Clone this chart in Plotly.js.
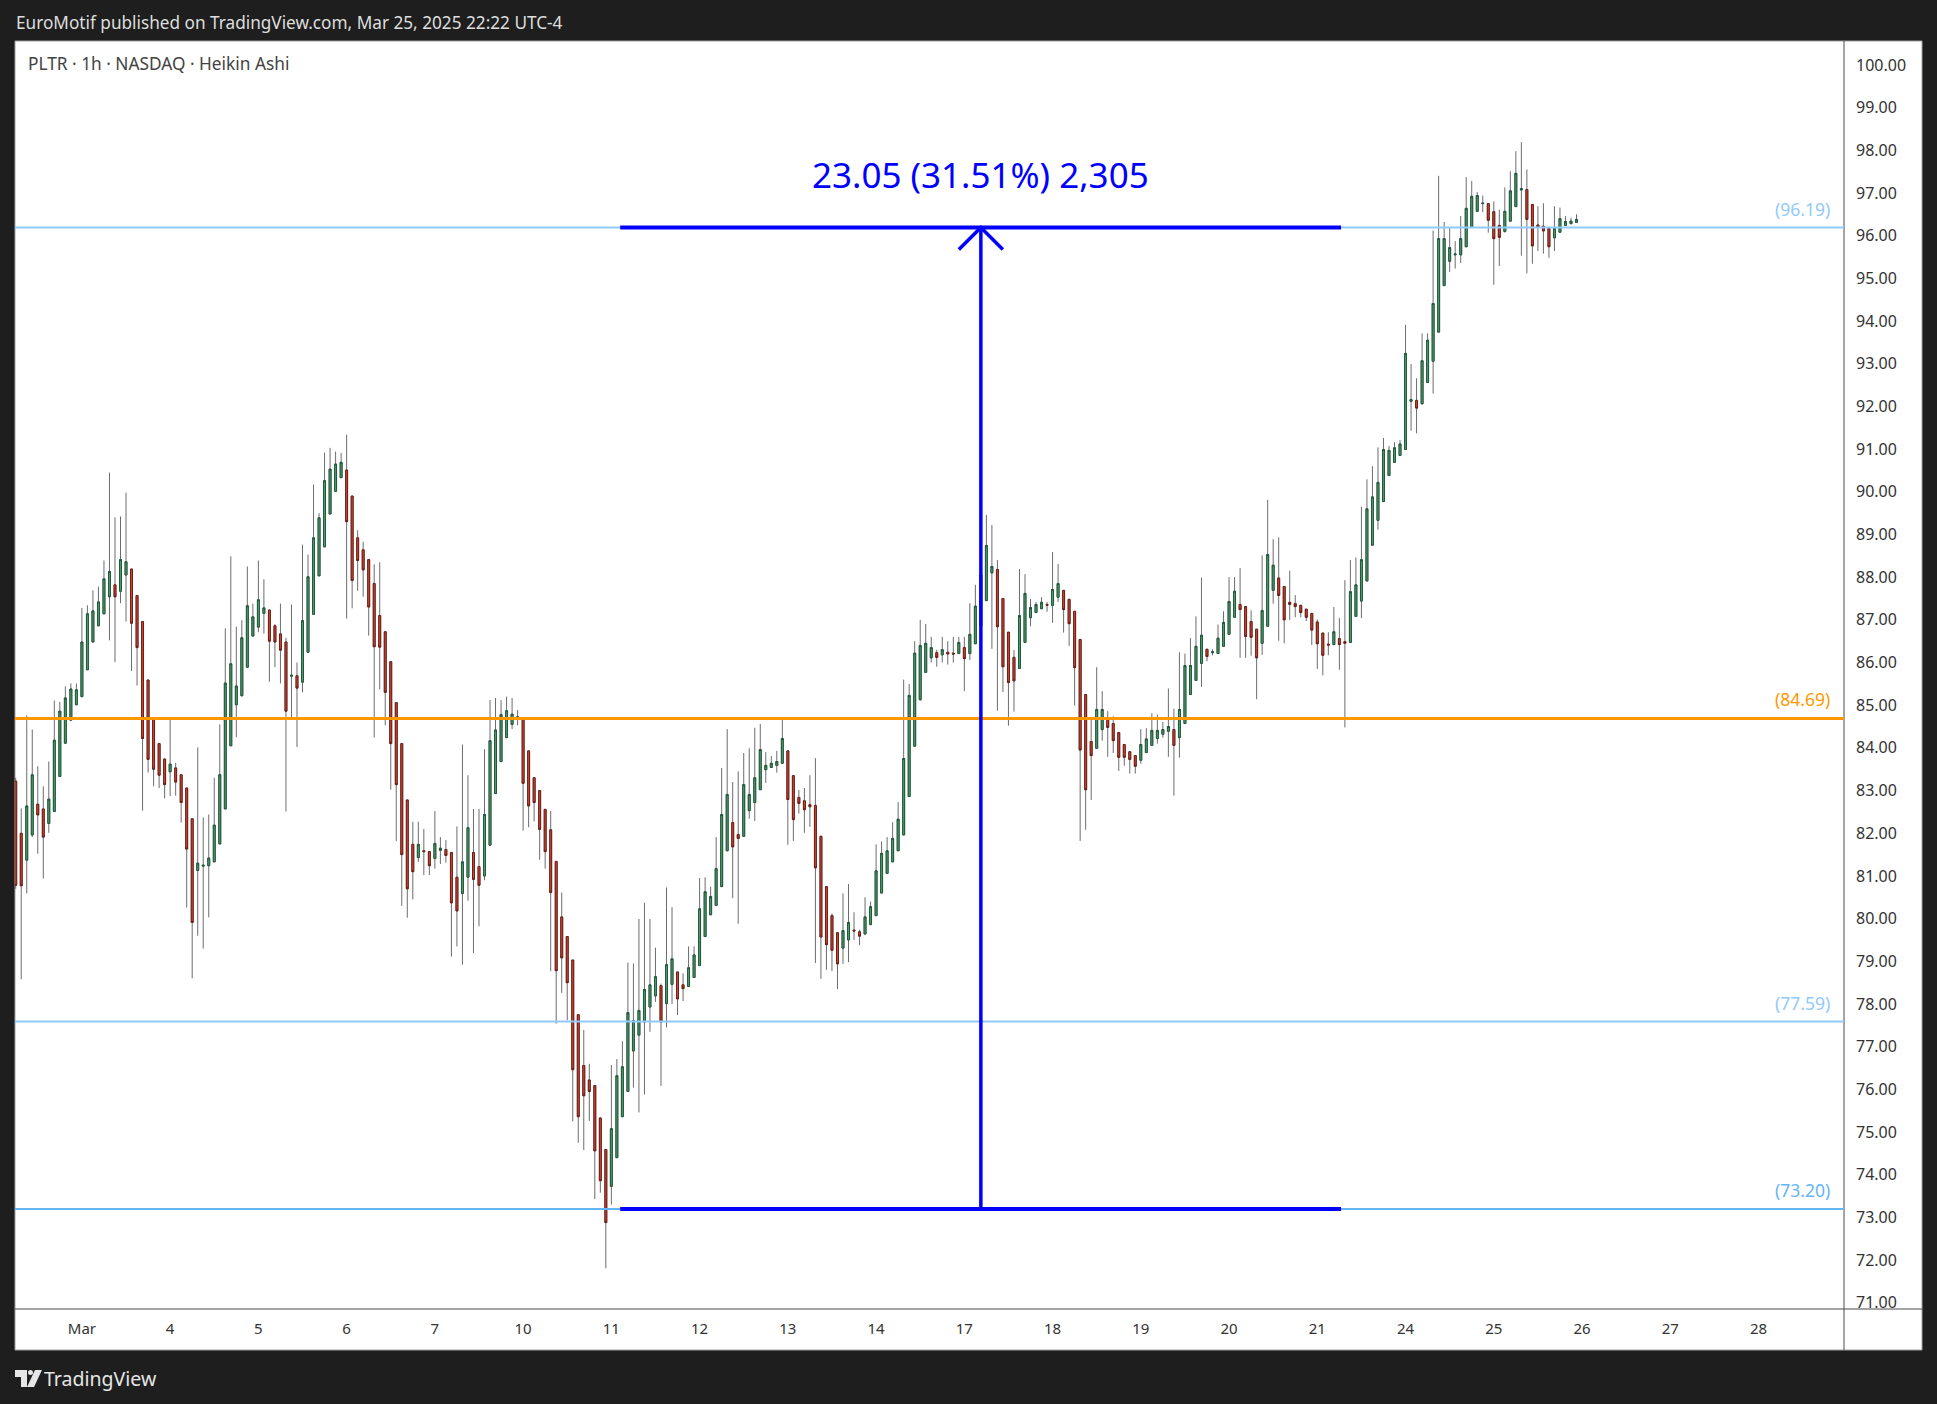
<!DOCTYPE html>
<html>
<head>
<meta charset="utf-8">
<script src="https://cdn.plot.ly/plotly-3.0.1.min.js"></script>
<style>
  html, body { margin: 0; padding: 0; background: #1e1e1e; }
  #chart { width: 1937px; height: 1404px; }
</style>
</head>
<body>
<div id="chart"></div>
<script>
// ---------------- DATA (Heikin Ashi, 1h bars, PLTR) ----------------
const openPrices = [
83.22,82.00,81.37,81.96,82.68,82.57,82.23,82.51,83.33,84.11,
84.65,85.01,85.20,85.83,86.48,86.86,87.14,87.54,87.82,87.67,
88.05,88.19,87.57,86.96,85.59,84.68,84.10,83.74,83.44,83.53,
83.37,83.06,82.34,81.13,81.23,81.24,81.33,81.75,82.57,84.05,
85.01,85.22,85.89,86.62,86.83,87.15,87.23,86.86,86.67,86.48,
85.68,85.69,85.54,86.24,87.13,88.03,88.71,89.48,90.01,90.33,
90.51,89.90,88.92,88.64,88.41,87.85,87.10,86.72,86.02,85.06,
84.10,82.78,81.74,81.43,81.59,81.57,81.41,81.60,81.62,81.55,
80.97,80.59,80.97,81.55,81.22,81.00,81.72,82.93,83.68,84.24,
84.55,84.68,84.70,83.93,83.30,83.00,82.56,82.08,81.34,80.04,
79.58,79.03,77.75,76.56,76.22,76.09,75.33,74.59,73.73,74.40,
75.36,75.95,76.90,77.27,77.58,77.93,78.19,78.43,78.01,78.46,
78.75,78.45,78.41,78.62,78.90,79.58,80.09,80.31,80.75,81.59,
82.25,81.97,81.93,82.53,82.72,83.02,83.49,83.54,83.59,83.64,
83.93,83.35,82.84,82.76,82.67,82.65,81.93,80.75,80.07,79.67,
79.31,79.50,79.73,79.69,79.64,79.86,80.07,80.60,81.06,81.33,
81.59,81.96,82.86,84.04,85.13,85.77,86.11,86.23,86.18,86.24,
86.22,86.21,86.35,86.21,86.44,86.86,87.45,88.10,88.18,87.50,
86.71,86.12,85.86,86.47,87.05,87.17,87.26,87.36,87.34,87.53,
87.69,87.48,87.20,86.54,85.25,84.15,83.99,84.43,84.67,84.57,
84.36,84.08,83.91,83.82,83.71,83.89,84.06,84.22,84.32,84.39,
84.43,84.24,84.57,85.25,85.58,85.98,86.31,86.23,86.21,86.38,
86.66,87.06,87.36,87.31,86.96,86.78,86.45,86.85,87.69,87.98,
87.78,87.41,87.38,87.34,87.25,87.15,86.95,86.69,86.43,86.42,
86.56,86.49,86.47,87.08,87.44,87.91,88.75,89.33,89.77,90.38,
90.69,90.85,90.99,92.12,92.14,92.06,92.56,93.06,93.74,94.83,
95.40,95.55,95.55,95.74,96.19,96.57,96.75,96.75,96.56,96.24,
96.10,96.34,96.68,97.07,97.08,96.73,96.25,96.22,96.17,95.95,
96.08,96.24,96.28,96.31
];
const highPrices = [
83.30,82.58,84.76,84.43,83.57,83.10,83.68,85.11,85.08,85.44,
85.51,85.51,87.28,87.34,87.69,87.78,88.39,90.45,89.40,89.42,
89.98,88.19,87.57,86.96,85.59,84.68,84.10,83.74,84.71,83.65,
83.37,83.06,82.34,84.01,82.37,82.44,83.30,84.55,86.80,88.49,
86.84,86.99,88.25,87.38,88.39,87.95,87.23,86.90,87.38,86.58,
87.36,86.00,88.76,88.53,90.17,89.50,90.92,91.03,90.94,90.91,
91.34,89.90,89.10,88.83,88.41,88.30,88.35,86.72,86.02,85.06,
84.10,82.78,82.27,82.27,82.10,81.57,82.52,81.91,81.84,81.55,
82.16,84.08,83.36,82.57,82.57,83.97,85.12,85.17,85.12,85.20,
85.17,84.89,84.70,83.93,83.30,83.00,82.56,82.52,81.34,80.61,
79.58,79.03,77.75,77.39,76.60,76.09,75.33,74.59,76.57,76.71,
77.13,78.97,78.95,79.99,80.37,79.99,79.32,78.48,80.73,80.27,
78.75,78.72,79.35,79.35,80.95,80.97,80.75,81.91,83.53,84.44,
83.20,83.45,83.88,83.99,84.47,84.56,83.90,83.81,83.93,84.67,
83.93,83.35,83.01,83.06,83.36,83.76,81.93,80.75,80.12,79.67,
80.59,80.81,80.15,79.74,80.50,80.40,81.74,81.81,81.91,82.26,
82.73,85.60,85.50,86.50,87.00,86.90,86.60,86.30,86.60,86.50,
86.60,86.60,86.60,87.39,87.82,88.91,89.46,89.22,88.40,87.50,
86.71,86.29,88.19,88.07,87.49,87.42,87.53,87.42,88.59,88.31,
87.69,87.48,87.20,86.54,85.25,84.67,85.89,85.33,84.86,84.74,
84.36,84.08,83.91,83.82,84.44,84.46,84.81,84.78,84.61,85.39,
84.92,86.24,86.21,86.57,87.08,87.99,86.31,86.31,86.89,87.20,
88.00,88.00,88.21,87.31,87.22,86.78,88.51,89.81,88.89,88.93,
87.78,88.15,87.58,87.34,87.25,87.15,87.01,86.69,86.71,87.30,
87.04,87.93,88.40,88.46,89.65,90.29,90.60,91.04,91.26,91.07,
91.16,91.21,93.91,92.99,92.66,93.71,93.71,96.12,97.40,96.32,
96.20,95.87,96.46,97.37,97.28,97.02,96.94,96.75,96.80,96.61,
97.13,97.51,97.98,98.19,97.55,96.73,96.69,96.76,96.17,96.69,
96.66,96.46,96.42,96.50
];
const lowPrices = [
80.70,78.58,80.59,81.91,81.52,80.94,82.01,82.51,83.33,84.11,
84.65,85.01,85.20,85.83,86.48,86.86,87.14,86.52,86.01,87.39,
86.96,85.80,85.46,82.53,83.42,83.10,83.06,82.82,82.87,82.88,
82.25,80.26,78.60,79.60,79.30,80.03,81.33,81.75,82.57,84.05,
84.25,85.22,85.89,86.62,86.71,86.68,85.55,85.89,85.51,82.51,
84.72,84.02,85.30,86.24,87.13,88.03,88.71,89.48,90.01,90.33,
87.03,87.27,87.68,87.54,86.63,84.24,85.37,84.53,83.02,81.82,
80.30,80.02,80.45,81.33,81.02,81.02,81.17,81.28,81.31,79.11,
79.35,78.92,80.42,79.19,79.82,80.90,81.72,82.93,83.68,84.24,
84.44,84.53,82.06,82.14,82.28,81.38,81.17,78.77,77.54,78.26,
77.62,75.25,74.75,74.58,75.26,73.43,73.58,71.81,73.30,74.40,
75.36,75.95,76.04,75.46,75.88,77.35,78.05,76.08,77.45,78.00,
77.74,78.07,78.41,78.62,78.90,79.58,80.09,80.31,80.75,81.59,
80.48,79.88,81.93,82.34,82.29,83.02,83.18,83.54,83.42,83.64,
81.73,81.82,82.46,82.01,82.15,78.96,78.59,78.80,78.77,78.35,
78.94,78.98,79.50,79.38,79.64,79.86,80.07,80.60,81.06,81.33,
81.59,81.96,82.86,84.04,85.10,85.77,86.00,85.90,86.00,85.95,
86.00,86.21,85.33,86.06,86.44,86.80,87.45,86.32,84.87,85.31,
84.52,84.85,85.86,86.47,86.85,87.17,87.26,87.19,86.93,87.42,
86.70,86.39,84.99,81.82,82.08,82.78,83.99,84.17,83.79,83.88,
83.46,83.58,83.40,83.40,83.63,83.89,84.06,84.10,84.24,83.79,
82.88,83.77,84.57,85.25,85.58,85.43,86.03,86.17,86.21,86.38,
86.66,87.06,86.11,86.11,86.16,85.14,86.18,86.85,87.38,86.51,
86.45,87.00,87.06,87.06,86.97,86.41,85.85,85.70,86.17,86.42,
85.83,84.48,86.47,87.08,87.04,87.91,88.75,89.11,89.77,90.38,
90.69,90.85,90.99,91.43,91.37,92.06,92.56,92.30,93.74,94.83,
95.15,95.23,95.36,95.74,96.19,96.57,96.55,96.07,94.85,95.29,
96.07,96.34,96.68,95.53,95.12,95.34,95.64,95.58,95.48,95.64,
96.08,96.24,96.28,96.31
];
const closePrices = [
80.78,80.77,82.64,83.37,82.43,81.91,82.80,84.18,84.86,85.17,
85.38,85.36,86.48,87.14,87.21,87.42,87.96,88.13,87.54,88.41,
88.36,86.92,86.35,84.22,83.73,83.50,83.36,83.14,83.62,83.20,
82.72,81.63,79.91,81.30,81.25,81.42,82.19,83.37,85.52,85.97,
85.45,86.58,87.33,87.07,87.47,87.28,86.50,86.48,86.29,84.86,
85.70,85.40,86.98,88.01,88.92,89.39,90.26,90.53,90.65,90.69,
89.30,87.92,88.39,88.17,87.30,86.37,86.36,85.30,84.10,83.14,
81.50,80.70,81.10,81.74,81.57,81.24,81.76,81.65,81.48,80.37,
80.18,81.33,82.13,80.92,80.78,82.44,84.17,84.42,84.78,84.87,
84.79,84.73,83.17,82.64,82.72,82.09,81.57,80.61,78.78,79.08,
78.50,76.46,75.36,75.85,75.95,74.56,73.86,72.88,75.08,76.32,
76.53,77.80,77.61,77.85,78.34,78.45,78.64,77.58,78.92,79.06,
78.12,78.36,78.85,79.15,80.23,80.63,80.52,81.17,82.44,82.91,
81.68,81.88,83.14,82.91,83.30,83.96,83.59,83.64,83.68,84.22,
82.79,82.32,82.70,82.55,82.62,81.19,79.57,79.39,79.26,78.94,
79.72,79.91,79.71,79.59,80.04,80.28,81.12,81.53,81.59,81.88,
82.33,83.75,85.23,86.22,86.40,86.45,86.35,86.12,86.30,86.20,
86.20,86.47,86.09,86.66,87.32,88.05,88.74,88.25,86.84,85.90,
85.53,85.57,87.10,87.62,87.29,87.36,87.41,87.34,87.71,87.85,
87.24,86.91,85.88,83.95,83.02,83.82,84.90,84.90,84.48,84.17,
83.78,83.78,83.73,83.57,84.08,84.21,84.41,84.41,84.43,84.50,
84.06,84.90,85.93,85.93,86.38,86.64,86.14,86.25,86.57,86.94,
87.43,87.67,87.24,86.61,86.59,86.11,87.22,88.53,88.28,87.57,
87.00,87.36,87.31,87.17,87.06,86.76,86.44,86.17,86.41,86.72,
86.42,86.45,87.66,87.82,88.41,89.60,89.88,90.22,90.99,90.97,
91.03,91.12,93.24,92.16,91.96,93.07,93.55,94.41,95.93,95.93,
95.72,95.57,95.93,96.64,96.92,96.94,96.76,96.36,95.93,95.96,
96.57,97.05,97.46,97.10,96.38,95.76,96.19,96.11,95.74,96.17,
96.40,96.33,96.34,96.38
];

// time axis: the first session (Mar 3) starts after 12 bars of Feb 28; 16 bars per session
const dayLabels = ['Mar','4','5','6','7','10','11','12','13','14','17','18','19','20','21','24','25','26','27','28'];
const barsBeforeFirstDay = 12;
const barsPerDay = 16;

// price axis tick labels
const priceTicks = [71,72,73,74,75,76,77,78,79,80,81,82,83,84,85,86,87,88,89,90,91,92,93,94,95,96,97,98,99,100];

// horizontal levels drawn on the chart
const levelValues = [96.19, 84.69, 77.59, 73.20];
const levelLabels = ['(96.19)', '(84.69)', '(77.59)', '(73.20)'];

// price-range measurement drawing
const measureLow = 73.20;
const measureHigh = 96.19;
const measureStartBar = 109.6;
const measureEndBar = 240.3;
const measureBar = 175;
const measureText = '23.05 (31.51%) 2,305';

// ---------------- STYLES ----------------
const FONT = 'Noto Sans, Open Sans, DejaVu Sans, sans-serif';
const levelColors = ['#90caf9', '#ff9800', '#90caf9', '#64b5f6'];
const levelWidths = [2, 3, 2, 2];
const MEASURE_COLOR = '#0000ff';

// plot area in page pixels
const L = 15, R = 1844, T = 41, B = 1309;
const W = R - L, H = B - T;
const px2x = p => (p - L) / W;
const py2y = p => (B - p) / H;

const xIdx = openPrices.map((_, i) => i);
const bodyHigh = openPrices.map((o, i) => Math.max(o, closePrices[i]));
const bodyLow = openPrices.map((o, i) => Math.min(o, closePrices[i]));
const dayTickVals = dayLabels.map((_, k) => barsBeforeFirstDay + k * barsPerDay);

const wicks = {
  type: 'candlestick', x: xIdx,
  open: openPrices, high: highPrices, low: lowPrices, close: closePrices,
  increasing: { line: { color: '#6c6c6c', width: 1 }, fillcolor: '#6c6c6c' },
  decreasing: { line: { color: '#6c6c6c', width: 1 }, fillcolor: '#6c6c6c' },
  whiskerwidth: 0, hoverinfo: 'skip', showlegend: false
};
const bodies = {
  type: 'candlestick', x: xIdx,
  open: openPrices, high: bodyHigh, low: bodyLow, close: closePrices,
  increasing: { line: { color: '#1f5a3a', width: 1 }, fillcolor: '#4f9e6e' },
  decreasing: { line: { color: '#6d1f17', width: 1 }, fillcolor: '#d8432f' },
  whiskerwidth: 0, hoverinfo: 'skip', showlegend: false
};

const shapes = [];
// white chart panel (pane + axes)
shapes.push({ type: 'rect', xref: 'paper', yref: 'paper', layer: 'below',
  x0: px2x(15), x1: px2x(1922), y0: py2y(1350), y1: py2y(41),
  fillcolor: '#ffffff', line: { color: '#a0a0a0', width: 1 } });
// separators
shapes.push({ type: 'line', xref: 'paper', yref: 'paper', x0: 1, x1: 1, y0: py2y(1350), y1: 1,
  line: { color: '#4a4a4a', width: 1 } });
shapes.push({ type: 'line', xref: 'paper', yref: 'paper', x0: 0, x1: px2x(1922), y0: 0, y1: 0,
  line: { color: '#4a4a4a', width: 1 } });
// horizontal levels
levelValues.forEach((v, i) => {
  shapes.push({ type: 'line', xref: 'paper', yref: 'y', x0: 0, x1: 1, y0: v, y1: v,
    line: { color: levelColors[i], width: levelWidths[i] } });
});
// measurement drawing
shapes.push({ type: 'line', xref: 'x', yref: 'y', x0: measureStartBar, x1: measureEndBar,
  y0: measureHigh, y1: measureHigh, line: { color: MEASURE_COLOR, width: 4 } });
shapes.push({ type: 'line', xref: 'x', yref: 'y', x0: measureStartBar, x1: measureEndBar,
  y0: measureLow, y1: measureLow, line: { color: MEASURE_COLOR, width: 4 } });
shapes.push({ type: 'line', xref: 'x', yref: 'y', x0: measureBar, x1: measureBar,
  y0: measureLow, y1: measureHigh, line: { color: MEASURE_COLOR, width: 3.5 } });
shapes.push({ type: 'path', xref: 'x', yref: 'y', xsizemode: 'pixel', ysizemode: 'pixel',
  xanchor: measureBar, yanchor: measureHigh, path: 'M-22,-22 L0,0 L22,-22',
  line: { color: MEASURE_COLOR, width: 3.5 } });
// TradingView logo (simplified)
const LOGO = '#e6e6e6';
shapes.push({ type: 'rect', xref: 'paper', yref: 'paper', x0: px2x(15), x1: px2x(27), y0: py2y(1377), y1: py2y(1370),
  fillcolor: LOGO, line: { width: 0 } });
shapes.push({ type: 'rect', xref: 'paper', yref: 'paper', x0: px2x(21), x1: px2x(27), y0: py2y(1387), y1: py2y(1370),
  fillcolor: LOGO, line: { width: 0 } });
shapes.push({ type: 'circle', xref: 'paper', yref: 'paper', x0: px2x(28), x1: px2x(33), y0: py2y(1375), y1: py2y(1370),
  fillcolor: LOGO, line: { width: 0 } });
shapes.push({ type: 'path', xref: 'paper', yref: 'paper',
  path: `M${px2x(35)},${py2y(1370)} L${px2x(42)},${py2y(1370)} L${px2x(34)},${py2y(1387)} L${px2x(27)},${py2y(1387)} Z`,
  fillcolor: LOGO, line: { width: 0 } });

const annotations = [];
annotations.push({ xref: 'paper', yref: 'paper', x: px2x(14), y: py2y(22), xanchor: 'left', yanchor: 'middle',
  text: 'EuroMotif published on TradingView.com, Mar 25, 2025 22:22 UTC-4', showarrow: false,
  font: { family: FONT, size: 17.2, color: '#dedede' } });
annotations.push({ xref: 'paper', yref: 'paper', x: px2x(26), y: py2y(63), xanchor: 'left', yanchor: 'middle',
  text: 'PLTR · 1h · NASDAQ · Heikin Ashi', showarrow: false,
  font: { family: FONT, size: 17.3, color: '#434343' } });
annotations.push({ xref: 'paper', yref: 'paper', x: px2x(42), y: py2y(1378), xanchor: 'left', yanchor: 'middle',
  text: 'TradingView', showarrow: false,
  font: { family: FONT, size: 19.5, color: '#e6e6e6' } });
levelValues.forEach((v, i) => {
  annotations.push({ xref: 'paper', yref: 'y', x: px2x(1832), y: v, xanchor: 'right', yanchor: 'middle',
    yshift: 19, text: levelLabels[i], showarrow: false,
    font: { family: FONT, size: 17.5, color: levelColors[i] } });
});
annotations.push({ xref: 'x', yref: 'y', x: measureBar, y: measureHigh, yshift: 53, xanchor: 'center', yanchor: 'middle',
  text: measureText, showarrow: false, font: { family: FONT, size: 35, color: MEASURE_COLOR } });

const layout = {
  width: 1937, height: 1404,
  margin: { l: L, r: 1937 - R, t: T, b: 1404 - B, pad: 0 },
  paper_bgcolor: '#1e1e1e', plot_bgcolor: '#ffffff',
  showlegend: false, boxgap: 0.5, boxmode: 'overlay',
  font: { family: FONT },
  xaxis: {
    range: [-0.13, 331.5], tickmode: 'array', tickvals: dayTickVals, ticktext: dayLabels,
    showgrid: false, zeroline: false, showline: false, ticks: '',
    tickfont: { family: FONT, size: 15, color: '#333333' }, ticklabelstandoff: 9,
    rangeslider: { visible: false }, fixedrange: true
  },
  yaxis: {
    side: 'right', range: [70.855, 100.56], tickmode: 'array', tickvals: priceTicks,
    tickformat: '.2f', showgrid: false, zeroline: false, showline: false, ticks: '',
    tickfont: { family: FONT, size: 16, color: '#333333' }, ticklabelstandoff: 11, fixedrange: true
  },
  shapes: shapes,
  annotations: annotations
};

Plotly.newPlot('chart', [wicks, bodies], layout, { staticPlot: true, displayModeBar: false });
</script>
</body>
</html>
